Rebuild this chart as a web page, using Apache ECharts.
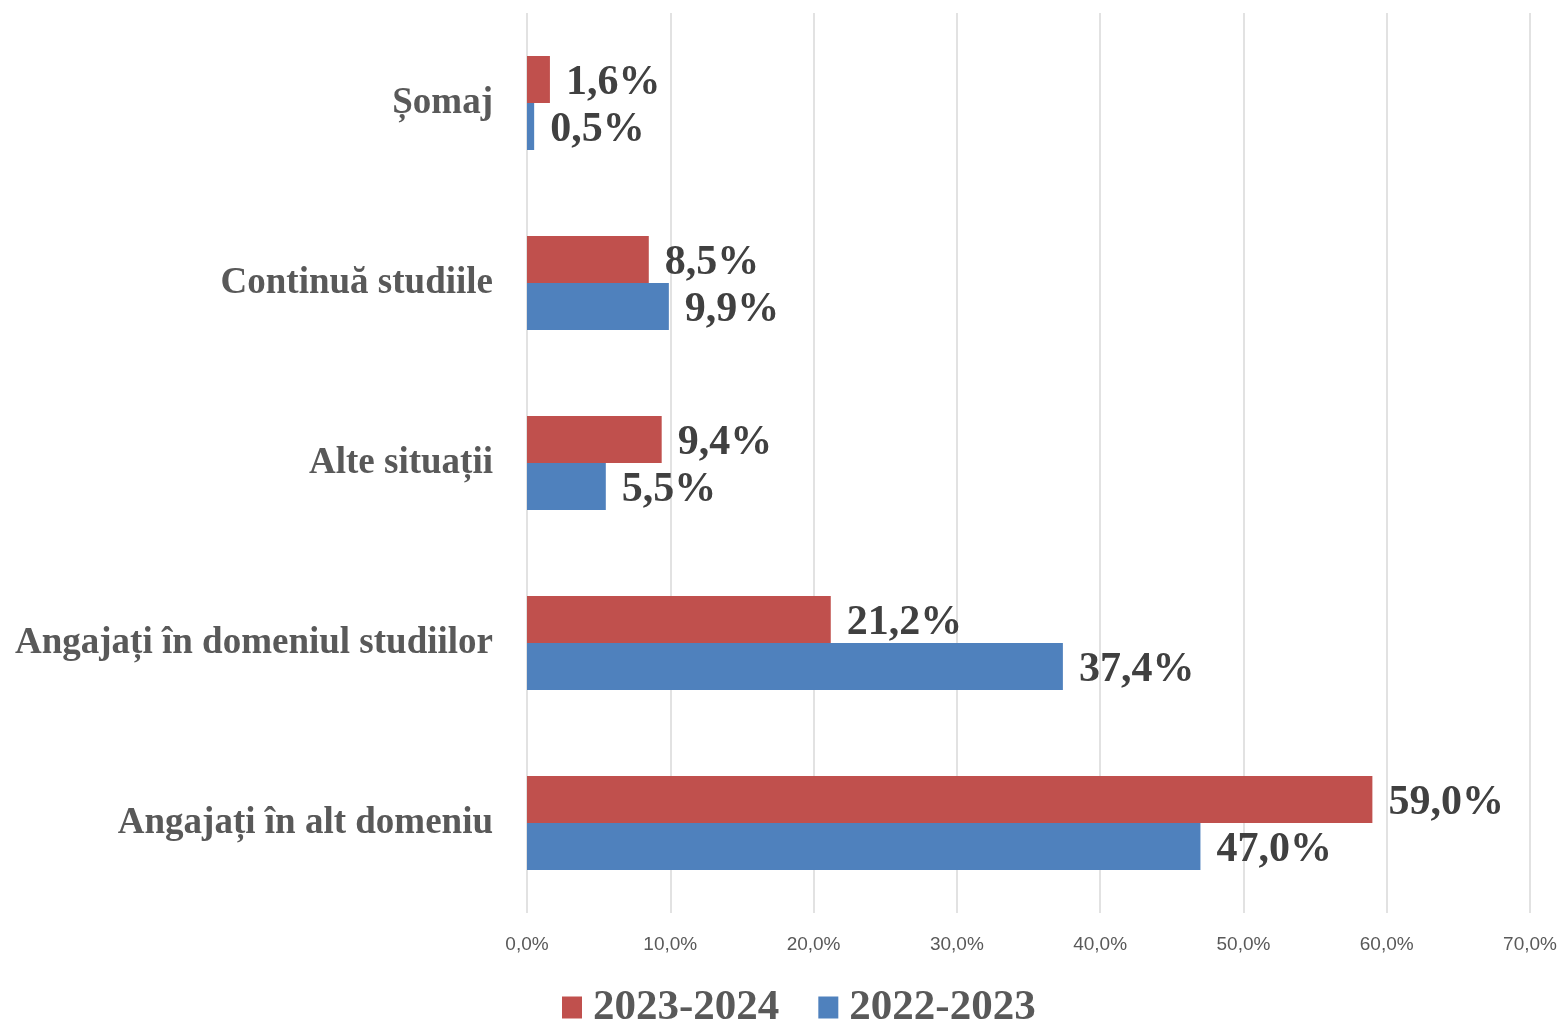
<!DOCTYPE html>
<html><head><meta charset="utf-8">
<script src="https://cdn.jsdelivr.net/npm/echarts@6/dist/echarts.min.js"></script>
<style>html,body{margin:0;padding:0;background:#fff}#c{width:1566px;height:1022px}</style>
</head><body><div id="c"></div>
<script>
const categories = ['Angajați în alt domeniu','Angajați în domeniul studiilor','Alte situații','Continuă studiile','Șomaj'];
const series2324 = [59.0, 21.2, 9.4, 8.5, 1.6];
const series2223 = [47.0, 37.4, 5.5, 9.9, 0.5];
const seriesNames = ['2023-2024','2022-2023'];
const xTicks = {min:0, max:70, interval:10};

const fmt = v => v.toFixed(1).replace('.', ',') + '%';
const serif = '"Liberation Serif","Times New Roman",serif';
const labelStyle = {show:true, position:'right', distance:16, offset:[0,4], fontFamily:serif, fontWeight:'bold', fontSize:42, color:'#404040', formatter:p=>fmt(p.value)};

const chart = echarts.init(document.getElementById('c'), null, {renderer:'canvas'});
chart.setOption({
  animation:false,
  backgroundColor:'#fff',
  grid:{left:527, right:36, top:13, bottom:109},
  legend:{
    data:seriesNames, bottom:-12, left:557, itemWidth:20, itemHeight:22, itemGap:39,
    icon:'rect',
    textStyle:{fontFamily:serif, fontWeight:'bold', fontSize:43, color:'#595959', padding:[0,0,0,6]}
  },
  xAxis:{type:'value', min:xTicks.min, max:xTicks.max, interval:xTicks.interval,
    axisLine:{show:false}, axisTick:{show:false},
    splitLine:{lineStyle:{color:'#d9d9d9', width:1.5}},
    axisLabel:{formatter:v=>fmt(v), fontFamily:'"Liberation Sans",Arial,sans-serif', fontSize:19, color:'#595959', margin:22}
  },
  yAxis:{type:'category', data:categories,
    axisLine:{show:false}, axisTick:{show:false},
    axisLabel:{fontFamily:serif, fontWeight:'bold', fontSize:37, color:'#595959', margin:34, padding:[8,0,0,0]}
  },
  series:[
    {name:seriesNames[0], type:'bar', data:series2324, barWidth:47, barGap:'0%', itemStyle:{color:'#C0504D'}, label:labelStyle},
    {name:seriesNames[1], type:'bar', data:series2223, barWidth:47, barGap:'0%', itemStyle:{color:'#4F81BD'}, label:labelStyle}
  ]
});
</script></body></html>
